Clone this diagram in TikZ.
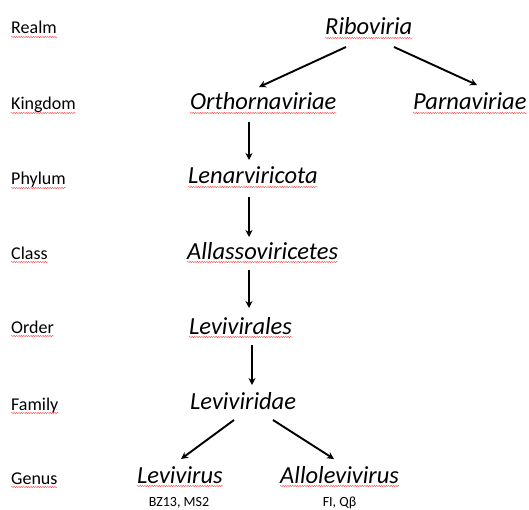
\documentclass[tikz,border=0pt]{standalone}
\usepackage{fontspec}
\setmainfont{Carlito}
\usetikzlibrary{arrows.meta,decorations.pathmorphing}
\tikzset{
  rank/.style={anchor=base west,inner sep=0pt,font=\fontsize{18}{20}\selectfont},
  taxon/.style={anchor=base west,inner sep=0pt,font=\fontsize{24.5}{27}\selectfont\itshape},
  member/.style={anchor=base,inner sep=0pt,font=\fontsize{14}{16}\selectfont},
  link/.style={line width=1.9pt,-{Stealth[length=7pt,width=7pt]}},
  squig/.style={draw=red!70!white,line width=0.45pt,decorate,decoration={snake,amplitude=0.6pt,segment length=2.4pt}}
}
\newcommand{\squiggle}[1]{\draw[squig] ([yshift=-3pt]#1.base west) -- ([yshift=-3pt]#1.base east);}
\begin{document}
\begin{tikzpicture}[x=1pt,y=1pt]
\useasboundingbox (0,0) rectangle (529,509);
% rank labels
\node[rank] (realm) at (11,475) {Realm};
\node[rank] (kingdom) at (11,399) {Kingdom};
\node[rank] (phylum) at (11,324) {Phylum};
\node[rank] (class) at (11,250) {Class};
\node[rank] (order) at (11,176) {Order};
\node[rank] (family) at (11,99) {Family};
\node[rank] (genus) at (11,25) {Genus};
% taxa
\node[taxon] (ribo) at (325,474) {Riboviria};
\node[taxon] (ortho) at (190,399) {Orthornaviriae};
\node[taxon] (parna) at (413,399) {Parnaviriae};
\node[taxon] (lenar) at (188,325) {Lenarviricota};
\node[taxon] (allas) at (187,250) {Allassoviricetes};
\node[taxon] (levales) at (189,175) {Levivirales};
\node[taxon] (levidae) at (190,100) {Leviviridae};
\node[taxon] (levirus) at (137,26) {Levivirus};
\node[taxon] (allolev) at (280,26) {Allolevivirus};
\node[member] (bz) at (179,3) {BZ13, MS2};
\node[member] (fi) at (339.5,3) {FI, Qβ};
% spell-check squiggles
\foreach \n in {realm,kingdom,phylum,class,order,family,genus,ribo,ortho,parna,lenar,allas,levales,levirus,allolev}{\squiggle{\n}}
% connectors
\draw[link] ([xshift=21pt,yshift=-12pt]ribo.base west) -- ([xshift=69pt,yshift=23pt]ortho.base west);
\draw[link] ([xshift=69pt,yshift=-12pt]ribo.base west) -- ([xshift=64pt,yshift=25pt]parna.base west);
\draw[link] ([xshift=59pt,yshift=-12pt]ortho.base west) -- ([xshift=61pt,yshift=24pt]lenar.base west);
\draw[link] ([xshift=61pt,yshift=-13pt]lenar.base west) -- ([xshift=62pt,yshift=22pt]allas.base west);
\draw[link] ([xshift=62pt,yshift=-11pt]allas.base west) -- ([xshift=60pt,yshift=26pt]levales.base west);
\draw[link] ([xshift=63pt,yshift=-11pt]levales.base west) -- ([xshift=62pt,yshift=24pt]levidae.base west);
\draw[link] ([xshift=44pt,yshift=-11pt]levidae.base west) -- ([xshift=44pt,yshift=24pt]levirus.base west);
\draw[link] ([xshift=83pt,yshift=-11pt]levidae.base west) -- ([xshift=54pt,yshift=24pt]allolev.base west);
\end{tikzpicture}
\end{document}
